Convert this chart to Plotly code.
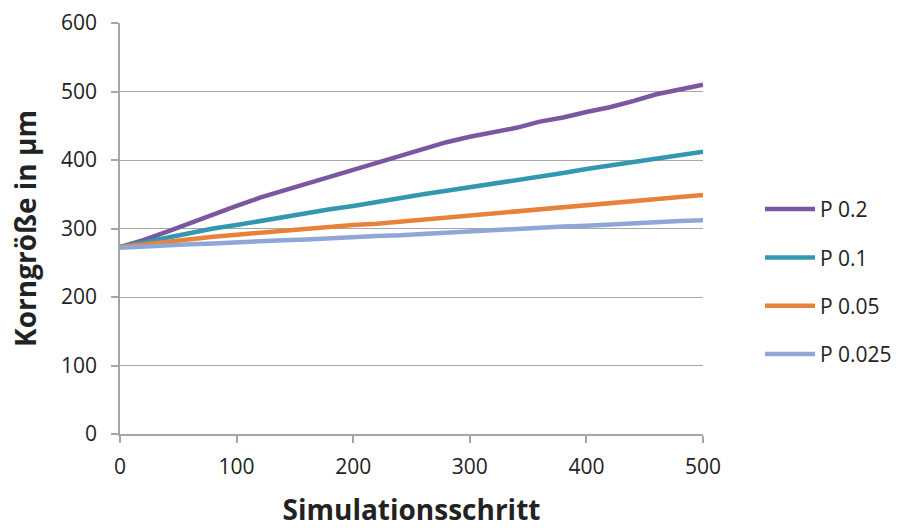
import plotly.graph_objects as go

steps = [0, 20, 40, 60, 80, 100, 120, 140, 160, 180, 200, 220, 240, 260, 280,
         300, 320, 340, 360, 380, 400, 420, 440, 460, 480, 500]

p_020 = [273, 283, 295, 308, 321, 333, 345, 355, 365, 376, 386, 395, 405, 416, 426,
         434, 440, 447, 456, 462, 470, 477, 486, 496, 503, 510]
p_010 = [273, 280, 287, 294, 300, 305, 311, 317, 322, 328, 333, 339, 345, 350, 355,
         360, 366, 371, 376, 381, 387, 392, 397, 402, 408, 412]
p_005 = [273, 277, 281, 284, 288, 291, 294, 297, 300, 302, 305, 307, 310, 313, 316,
         319, 322, 325, 328, 331, 334, 337, 340, 343, 346, 349]
p_0025 = [272, 274, 275, 277, 278, 280, 281, 283, 284, 286, 287, 289, 290, 292, 294,
          296, 297, 299, 301, 303, 304, 306, 307, 309, 311, 312]

series_names = ["P 0.2", "P 0.1", "P 0.05", "P 0.025"]
series_values = [p_020, p_010, p_005, p_0025]
colors = ["#7A57A0", "#3397AE", "#E8823A", "#8EA7D6"]

font_family = "'Open Sans', sans-serif"
axis_grey = "#A6A6A6"

fig = go.Figure()
for name, vals, col in zip(series_names, series_values, colors):
    fig.add_trace(go.Scatter(
        x=steps, y=vals, mode="lines", name=name, legendgroup=name,
        line=dict(color=col, width=4.5),
    ))

fig.update_layout(
    width=904, height=528,
    margin=dict(l=120, r=201, t=23, b=94),
    paper_bgcolor="white", plot_bgcolor="white",
    font=dict(family=font_family, size=21, color="#222222"),
    showlegend=True,
    legend=dict(
        xref="container", yref="container",
        x=0.8407, y=0.466, xanchor="left", yanchor="middle",
        font=dict(size=21, color="#222222"),
        tracegroupgap=18, itemwidth=50,
    ),
    xaxis=dict(
        range=[0, 500], tickvals=[0, 100, 200, 300, 400, 500],
        showgrid=False, zeroline=False, automargin=False,
        showline=True, linecolor=axis_grey, linewidth=1.5,
        ticks="outside", ticklen=7, tickcolor=axis_grey, tickwidth=1.5,
        tickfont=dict(size=21), ticklabelstandoff=6,
        title=dict(text="<b>Simulationsschritt</b>", font=dict(size=28), standoff=24),
    ),
    yaxis=dict(
        range=[0, 600], tickvals=[0, 100, 200, 300, 400, 500, 600],
        showgrid=True, gridcolor=axis_grey, gridwidth=1.2, zeroline=False,
        automargin=False,
        showline=True, linecolor=axis_grey, linewidth=1.5,
        ticks="outside", ticklen=7, tickcolor=axis_grey, tickwidth=1.5,
        tickfont=dict(size=21), ticklabelstandoff=10,
        title=dict(text="<b>Korngröße in µm</b>", font=dict(size=28), standoff=16),
    ),
)

fig.write_html("out.html")
